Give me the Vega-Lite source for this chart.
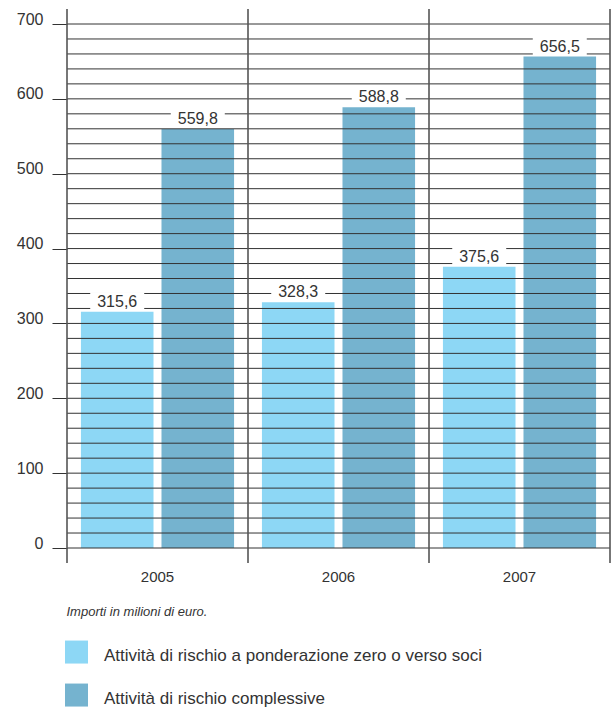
{
  "$schema": "https://vega.github.io/schema/vega-lite/v6.json",
  "width": 543,
  "height": 524,
  "autosize": {"type": "none"},
  "padding": {"left": 67, "top": 24, "right": 4, "bottom": 163},
  "background": "white",
  "config": {"view": {"stroke": null}, "font": "Liberation Sans"},
  "datasets": {
    "bars": [
      {"year": "2005", "serie": "Attività di rischio a ponderazione zero o verso soci", "valore": 315.6, "etichetta": "315,6"},
      {"year": "2005", "serie": "Attività di rischio complessive", "valore": 559.8, "etichetta": "559,8"},
      {"year": "2006", "serie": "Attività di rischio a ponderazione zero o verso soci", "valore": 328.3, "etichetta": "328,3"},
      {"year": "2006", "serie": "Attività di rischio complessive", "valore": 588.8, "etichetta": "588,8"},
      {"year": "2007", "serie": "Attività di rischio a ponderazione zero o verso soci", "valore": 375.6, "etichetta": "375,6"},
      {"year": "2007", "serie": "Attività di rischio complessive", "valore": 656.5, "etichetta": "656,5"}
    ],
    "grid": [
      {"valore": 0}, {"valore": 20}, {"valore": 40}, {"valore": 60}, {"valore": 80}, {"valore": 100}, {"valore": 120}, {"valore": 140}, {"valore": 160}, {"valore": 180},
      {"valore": 200}, {"valore": 220}, {"valore": 240}, {"valore": 260}, {"valore": 280}, {"valore": 300}, {"valore": 320}, {"valore": 340}, {"valore": 360}, {"valore": 380},
      {"valore": 400}, {"valore": 420}, {"valore": 440}, {"valore": 460}, {"valore": 480}, {"valore": 500}, {"valore": 520}, {"valore": 540}, {"valore": 560}, {"valore": 580},
      {"valore": 600}, {"valore": 620}, {"valore": 640}, {"valore": 660}, {"valore": 680}, {"valore": 700}
    ],
    "years": [{"year": "2005"}, {"year": "2006"}, {"year": "2007"}],
    "last": [{"year": "2007"}]
  },
  "layer": [
    {
      "data": {"name": "bars"},
      "mark": {"type": "bar"},
      "encoding": {
        "x": {
          "field": "year", "type": "nominal",
          "scale": {"domain": ["2005", "2006", "2007"], "paddingInner": 0, "paddingOuter": 0},
          "axis": {
            "title": "Importi in milioni di euro.",
            "titleFont": "Liberation Sans", "titleFontStyle": "italic", "titleFontWeight": "normal",
            "titleFontSize": 13, "titleColor": "#333333",
            "titleAnchor": "start", "titleAlign": "left", "titleBaseline": "alphabetic",
            "titleX": -1, "titleY": 67,
            "domain": false, "ticks": false, "labelAngle": 0,
            "labelFontSize": 15, "labelColor": "#333333", "labelPadding": 21
          }
        },
        "xOffset": {
          "field": "serie", "type": "nominal",
          "scale": {"paddingInner": 0.099, "paddingOuter": 0.173}
        },
        "y": {
          "field": "valore", "type": "quantitative",
          "scale": {"domain": [0, 700], "nice": false},
          "axis": {
            "title": null, "values": [0, 100, 200, 300, 400, 500, 600, 700],
            "domain": false, "grid": false, "tickSize": 15, "tickColor": "#333333", "tickWidth": 1,
            "labelFontSize": 16, "labelColor": "#333333", "labelPadding": 9, "labelBaseline": "alphabetic"
          }
        },
        "color": {
          "field": "serie", "type": "nominal",
          "scale": {
            "domain": ["Attività di rischio a ponderazione zero o verso soci", "Attività di rischio complessive"],
            "range": ["#8DD7F5", "#75B3CF"]
          },
          "legend": {
            "title": null, "orient": "none", "legendX": -2, "legendY": 620, "direction": "vertical",
            "symbolType": "M-1,-1.3L1,-1.3L1,0.7L-1,0.7Z", "symbolSize": 529, "symbolStrokeWidth": 0,
            "labelFont": "Liberation Sans", "labelFontSize": 17, "labelColor": "#333333",
            "labelOffset": 16, "labelLimit": 0, "rowPadding": 19, "padding": 0
          }
        }
      }
    },
    {
      "data": {"name": "grid"},
      "mark": {"type": "rule", "color": "#333333", "strokeWidth": 1},
      "encoding": {
        "y": {"field": "valore", "type": "quantitative"}
      }
    },
    {
      "data": {"name": "years"},
      "mark": {"type": "rule", "color": "#555555", "strokeWidth": 1.6},
      "encoding": {
        "x": {"field": "year", "type": "nominal", "bandPosition": 0},
        "y": {"datum": -20, "type": "quantitative"},
        "y2": {"datum": 720}
      }
    },
    {
      "data": {"name": "last"},
      "mark": {"type": "rule", "color": "#555555", "strokeWidth": 1.6},
      "encoding": {
        "x": {"field": "year", "type": "nominal", "bandPosition": 1},
        "y": {"datum": -20, "type": "quantitative"},
        "y2": {"datum": 720}
      }
    },
    {
      "data": {"name": "bars"},
      "mark": {"type": "point", "filled": true, "fill": "white", "opacity": 1, "strokeWidth": 0, "size": 2916, "shape": "M-1,-0.7L1,-0.7L1,-0.04L-1,-0.04Z"},
      "encoding": {
        "x": {"field": "year", "type": "nominal"},
        "xOffset": {"field": "serie", "type": "nominal"},
        "y": {"field": "valore", "type": "quantitative"}
      }
    },
    {
      "data": {"name": "bars"},
      "mark": {"type": "text", "baseline": "alphabetic", "dy": -5, "fontSize": 16, "color": "#333333"},
      "encoding": {
        "x": {"field": "year", "type": "nominal"},
        "xOffset": {"field": "serie", "type": "nominal"},
        "y": {"field": "valore", "type": "quantitative"},
        "text": {"field": "etichetta"}
      }
    }
  ]
}
